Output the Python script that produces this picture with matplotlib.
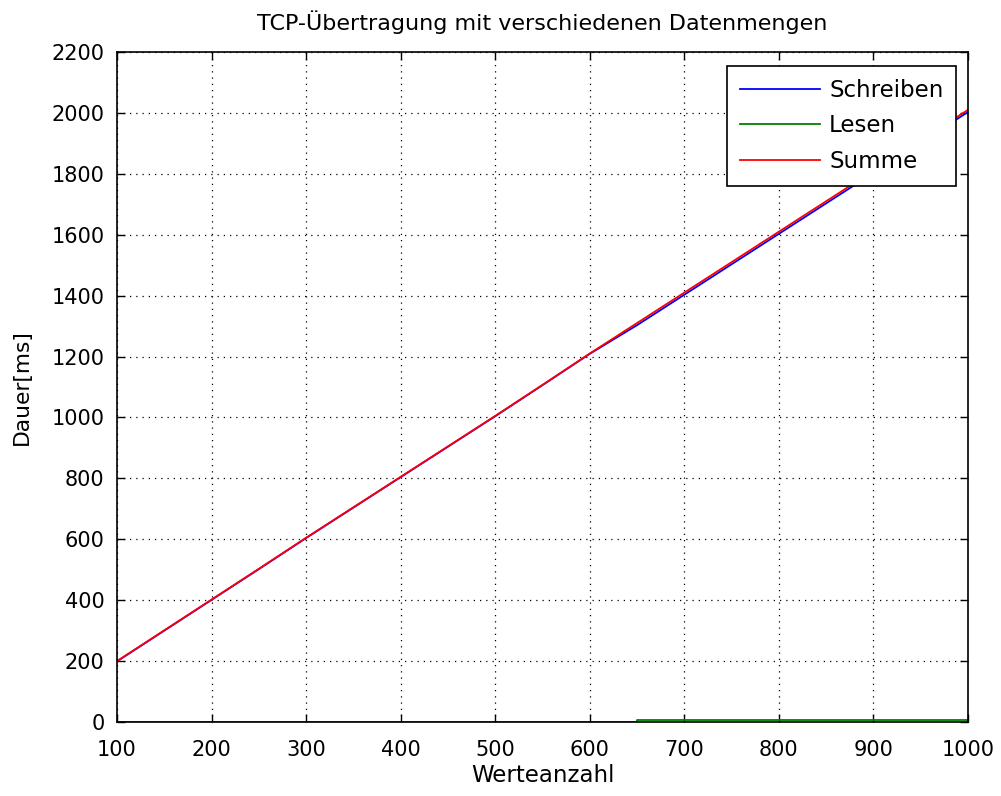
import matplotlib
matplotlib.use("Agg")
import matplotlib.pyplot as plt
import numpy as np

werteanzahl = [100, 150, 200, 250, 300, 350, 400, 450, 500, 550, 600, 650, 700, 750, 800, 850, 900, 950, 1000]
summe = [200, 301, 402, 503, 605, 705, 805, 905, 1005, 1107, 1210, 1310, 1410, 1510, 1610, 1710, 1810, 1910, 2010]
lesen = [1, 1, 1, 1, 1, 1, 1, 1, 1, 1, 1, 7, 7, 7, 7, 7, 7, 7, 7]
schreiben = [s - l for s, l in zip(summe, lesen)]

plt.rcParams['font.family'] = ['DejaVu Sans']
fig = plt.figure(figsize=(10.01, 7.96), dpi=100)
ax = fig.add_axes([117/1001, 1 - 722/796, (968-117)/1001, (722-52)/796])

ax.plot(werteanzahl, schreiben, color='#0000ff', lw=1.3, label='Schreiben')
ax.plot(werteanzahl, lesen, color='#008000', lw=1.3, label='Lesen', drawstyle='steps-post')
ax.plot(werteanzahl, summe, color='#ff0000', lw=1.3, label='Summe')

ax.set_xlim(100, 1000)
ax.set_ylim(0, 2200)
ax.set_xticks(np.arange(100, 1001, 100))
ax.set_yticks(np.arange(0, 2201, 200))
ax.tick_params(direction='in', top=True, right=True, labelsize=15, length=6, width=1)
ax.tick_params(axis='x', pad=13)
ax.tick_params(axis='y', pad=9)
ax.grid(True, color='black', linestyle=(0, (1, 4)), linewidth=0.9)
for s in ax.spines.values():
    s.set_linewidth(1.2)

ax.set_title('TCP-Übertragung mit verschiedenen Datenmengen', fontsize=16, pad=16)
ax.set_xlabel('Werteanzahl', fontsize=16.5, labelpad=3)
ax.set_ylabel('Dauer[ms]', fontsize=15.7, labelpad=14)

leg = ax.legend(loc='upper right', bbox_to_anchor=(956/1001, 1 - 66/796), bbox_transform=fig.transFigure,
                fontsize=16.5, frameon=True, fancybox=False, framealpha=1.0, handlelength=3.5, borderpad=0.55,
                labelspacing=0.56, handletextpad=0.4, borderaxespad=0)
leg.get_frame().set_edgecolor('black')
leg.get_frame().set_linewidth(1.2)

fig.savefig('out.png', dpi=100)
